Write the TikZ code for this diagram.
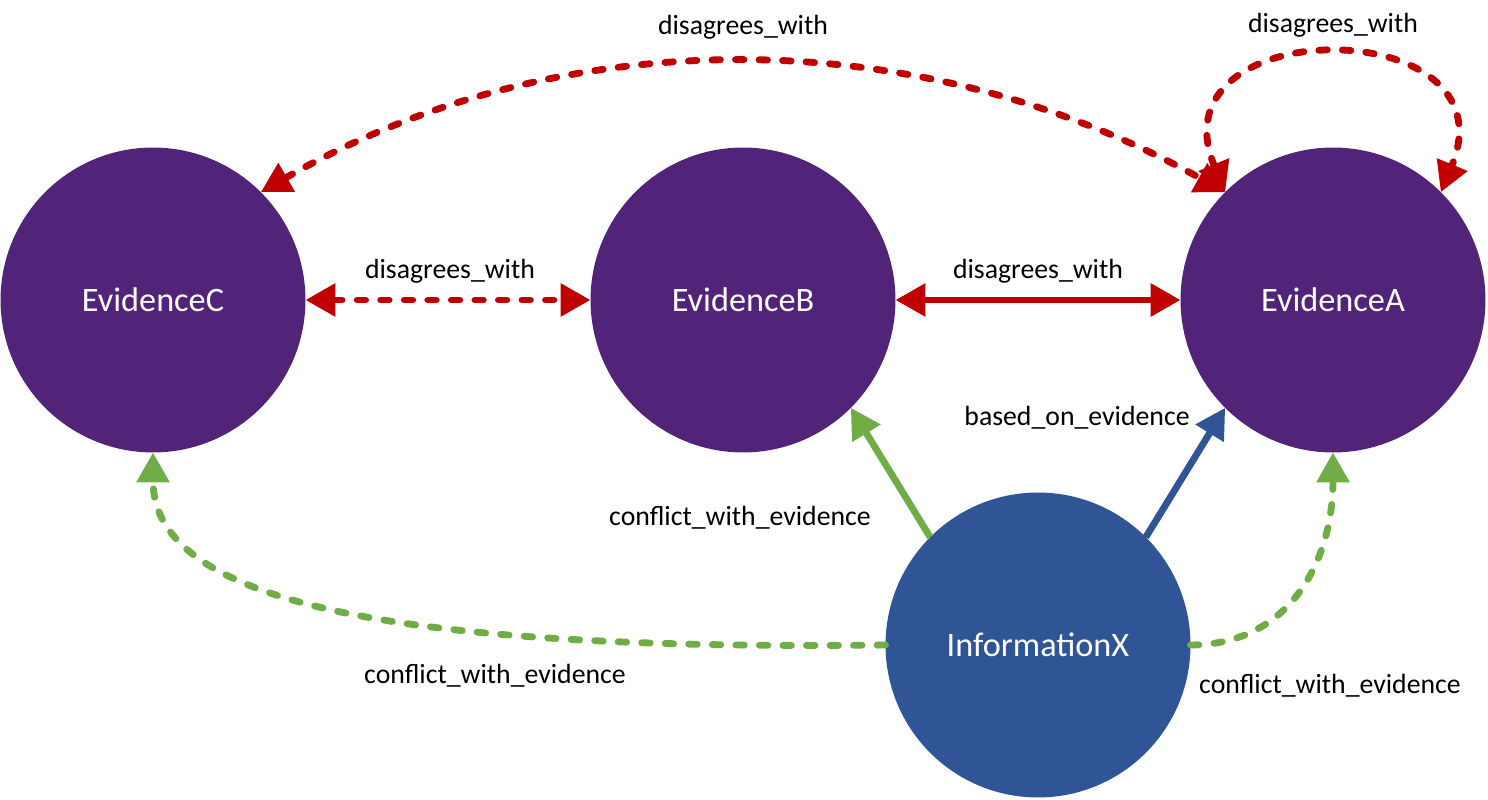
\documentclass[tikz,border=0pt]{standalone}
\usepackage{fontspec}
\setmainfont{Carlito}
\usepackage{tikz}
\usetikzlibrary{arrows.meta}

\definecolor{evpurple}{RGB}{81,36,122}
\definecolor{infoblue}{RGB}{47,85,151}
\definecolor{relred}{RGB}{192,0,0}
\definecolor{relgreen}{RGB}{112,173,71}

\tikzset{
  evnode/.style={circle, fill=evpurple, minimum size=6.1cm, inner sep=0pt, outer sep=0pt,
    text=white, font=\fontsize{19.5}{23}\selectfont},
  infonode/.style={evnode, fill=infoblue},
  rellabel/.style={inner sep=0pt, font=\fontsize{15.8}{19}\selectfont},
  onetip/.style={line width=3.9pt, -{Triangle[length=17pt,width=18pt]}},
  twotip/.style={line width=3.9pt, {Triangle[length=17pt,width=18pt]}-{Triangle[length=17pt,width=18pt]}},
  dashy/.style={line cap=round, dash pattern=on 4.8pt off 8.6pt},
}

\begin{document}
\begin{tikzpicture}[x=0.02cm, y=-0.02cm]
\useasboundingbox (0,0) rectangle (1488,800);

% evidence and information
\node[evnode] (evC) at (153,300) {EvidenceC};
\node[evnode] (evB) at (743,300) {EvidenceB};
\node[evnode] (evA) at (1333,300) {EvidenceA};
\node[infonode] (infoX) at (1038,645) {InformationX};

% disagreement between evidence
\draw[twotip, relred, dashy] (evC) -- (evB);
\draw[twotip, relred] (evB) -- (evA);
\draw[twotip, relred, dashy] (evC.45) .. controls (560,20) and (917,20) .. (evA.135);
\draw[twotip, relred, dashy] (evA.135) .. controls (1150,11) and (1516,11) .. (evA.45);

% information to evidence
\draw[onetip, relgreen] (infoX.135) -- (evB.-45);
\draw[onetip, infoblue] (infoX.45) -- (evA.-135);
\draw[onetip, relgreen, dashy] (infoX.180) .. controls (450,650) and (153,615) .. (evC.270);
\draw[onetip, relgreen, dashy] (infoX.0) .. controls (1290,645) and (1333,560) .. (evA.270);

% labels
\node[rellabel] (lbCB) at (450,271) {disagrees\_with};
\node[rellabel] (lbBA) at (1038,271) {disagrees\_with};
\node[rellabel] (lbCA) at (743,27) {disagrees\_with};
\node[rellabel] (lbAA) at (1333,25) {disagrees\_with};
\node[rellabel] (lbXA) at (1077,418) {based\_on\_evidence};
\node[rellabel] (lbXB) at (740,518) {conflict\_with\_evidence};
\node[rellabel] (lbXC) at (495,676) {conflict\_with\_evidence};
\node[rellabel] (lbXA2) at (1330,686) {conflict\_with\_evidence};
\end{tikzpicture}
\end{document}
